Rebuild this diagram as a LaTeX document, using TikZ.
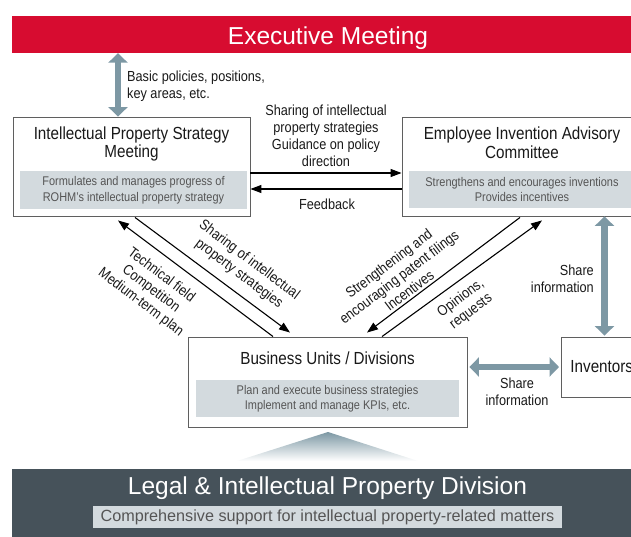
\documentclass[tikz,border=0pt]{standalone}
\usepackage{fontspec}
\setmainfont{Liberation Sans}
\newfontfamily\cond[FakeStretch=0.87]{Liberation Sans}
\usetikzlibrary{arrows.meta,calc}
\definecolor{exred}{RGB}{215,12,48}
\definecolor{arrowgray}{RGB}{125,152,164}
\definecolor{darkbar}{RGB}{70,82,90}
\definecolor{innergray}{RGB}{211,218,222}
\definecolor{boxline}{RGB}{95,95,95}
\definecolor{subgray}{RGB}{85,85,85}
\definecolor{lblcol}{RGB}{25,25,25}
\begin{document}
\begin{tikzpicture}[x=1pt,y=-1pt,
  titletext/.style={font=\cond\fontsize{17.5}{18.8}\selectfont, text=lblcol, align=center, inner sep=0pt},
  subtext/.style={font=\cond\fontsize{12.6}{15.5}\selectfont, text=subgray, align=center, fill=innergray, inner sep=0pt},
  lbl/.style={font=\cond\fontsize{14.6}{17}\selectfont, text=lblcol, align=center, inner sep=0pt},
  boxnode/.style={draw=boxline, line width=0.9pt, inner sep=0pt, fill=white},
  blk/.style={line width=1.1pt, draw=black, -{Triangle[length=11pt,width=8pt]}},
  gry/.style={line width=6.5pt, draw=arrowgray, {Triangle[length=9.5pt,width=19pt]}-{Triangle[length=9.5pt,width=19pt]}}
]
\path[use as bounding box] (0,0) rectangle (631,537);
\clip (0,0) rectangle (631,537);

% Executive bar
\node[fill=exred, minimum width=632pt, minimum height=37pt, inner sep=0pt] (exec) at (328,34.5) {};
\node[text=white, font=\fontsize{24.5}{26}\selectfont, inner sep=0pt, anchor=base] (exectitle) at (328,44.5) {Executive Meeting};

% IP strategy meeting
\node[boxnode, minimum width=237pt, minimum height=99pt] (ip) at (131.5,166.5) {};
\node[titletext] (iptitle) at (131.5,144) {Intellectual Property Strategy\\Meeting};
\node[subtext, minimum width=227pt, minimum height=38pt] (ipsub) at (133.5,190) {Formulates and manages progress of\\ROHM’s intellectual property strategy};

% Employee invention advisory committee
\node[boxnode, minimum width=240pt, minimum height=99pt] (eiac) at (522,166.5) {};
\node[titletext] (eiactitle) at (522,142.5) {Employee Invention Advisory\\Committee};
\node[subtext, minimum width=226pt, minimum height=37pt] (eiacsub) at (522,189.5) {Strengthens and encourages inventions\\Provides incentives};

% Business units
\node[boxnode, minimum width=279pt, minimum height=90pt] (bu) at (327.5,382) {};
\node[titletext] (butitle) at (327.5,358.5) {Business Units / Divisions};
\node[subtext, minimum width=263pt, minimum height=37pt] (busub) at (327.5,398.5) {Plan and execute business strategies\\Implement and manage KPIs, etc.};

% Inventors
\node[boxnode, anchor=west, minimum height=60pt, text width=82pt, inner xsep=9pt, align=left,
      font=\cond\fontsize{17.5}{18.8}\selectfont, text=lblcol] (inv) at (561,367) {Inventors};

% Legal division
\shade[top color=arrowgray, bottom color=white] (328,432) -- (237,461) -- (418,461) -- cycle;
\node[fill=darkbar, minimum width=640pt, minimum height=72pt, anchor=north west, inner sep=0pt] (legal) at (12,469) {};
\node[text=white, font=\fontsize{24.5}{26}\selectfont, inner sep=0pt, anchor=base] (legaltitle) at (327.5,494) {Legal \& Intellectual Property Division};
\node[fill=innergray, minimum width=469pt, minimum height=22pt, inner sep=0pt,
      font=\fontsize{16.2}{18}\selectfont, text=subgray] (legalsub) at (327.5,517) {Comprehensive support for intellectual property-related matters};

% black arrows
\draw[blk] ([yshift=-6.5pt]ip.east) -- ([yshift=-6.5pt]ip.east -| eiac.west);
\draw[blk] ([yshift=-22.5pt]eiac.west) -- ([yshift=-22.5pt]eiac.west -| ip.east);
\draw[blk] ([xshift=-54.5pt]bu.north) -- ([xshift=-13.5pt,yshift=-4pt]ip.south);
\draw[blk] ([xshift=3.5pt,yshift=-1pt]ip.south) -- ([xshift=-37.5pt,yshift=4pt]bu.north);
\draw[blk] ([xshift=-2pt,yshift=-1pt]eiac.south) -- ([xshift=39.5pt,yshift=4pt]bu.north);
\draw[blk] ([xshift=54.5pt]bu.north) -- ([xshift=20pt,yshift=-4pt]eiac.south);

% gray arrows
\coordinate (g1) at ([xshift=-13.5pt]ip.north);
\draw[gry] (g1 |- exec.south) -- (g1);
\coordinate (g2) at ([xshift=82.5pt]eiac.south);
\draw[gry, shorten >=1pt] (g2) -- (g2 |- inv.north);
\coordinate (g3) at ([yshift=15pt]bu.east);
\draw[gry, shorten <=2pt, shorten >=2pt] (g3) -- (g3 -| inv.west);

% labels
\node[lbl, align=left, anchor=west] (basic) at (127,86.5) {Basic policies, positions,\\key areas, etc.};
\node[lbl] (share1) at (326,135.5) {Sharing of intellectual\\property strategies\\Guidance on policy\\direction};
\node[lbl] (fb) at (327,204) {Feedback};
\node[lbl, rotate=-37] (l1) at (244,267) {Sharing of intellectual\\property strategies};
\node[lbl, rotate=-37] (l2) at (151,289) {Technical field\\Competition\\Medium-term plan};
\node[lbl, rotate=37] (r1) at (399,277) {Strengthening and\\encouraging patent filings\\Incentives};
\node[lbl, rotate=37] (r2) at (466,305) {Opinions,\\requests};
\node[lbl, align=right, anchor=east] (sh2) at (594,279) {Share\\information};
\node[lbl] (sh3) at (517,391.5) {Share\\information};
\end{tikzpicture}
\end{document}
